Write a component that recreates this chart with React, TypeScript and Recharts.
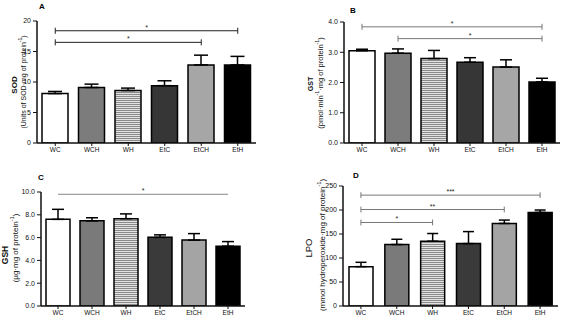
import { BarChart, Bar, XAxis, YAxis, Cell, ErrorBar, ReferenceLine } from "recharts";

const groups = ["WC", "WCH", "WH", "EtC", "EtCH", "EtH"];

// panel A - SOD
const sodMean = [8.1, 9.1, 8.6, 9.4, 12.8, 12.8];
const sodErr = [0.35, 0.55, 0.4, 0.8, 1.6, 1.4];
const sodTicks = [0, 5, 10, 15, 20];
const sodSig = [
  { from: "WC", to: "EtH", y: 18.4, mark: "*" },
  { from: "WC", to: "EtCH", y: 16.5, mark: "*" },
];

// panel B - GST
const gstMean = [3.05, 2.97, 2.79, 2.67, 2.51, 2.02];
const gstErr = [0.05, 0.14, 0.27, 0.15, 0.24, 0.12];
const gstTicks = [0, 1, 2, 3, 4];
const gstSig = [
  { from: "WC", to: "EtH", y: 3.84, mark: "*" },
  { from: "WCH", to: "EtH", y: 3.45, mark: "*" },
];

// panel C - GSH
const gshMean = [7.6, 7.47, 7.66, 6.02, 5.78, 5.25];
const gshErr = [0.88, 0.27, 0.42, 0.22, 0.57, 0.4];
const gshTicks = [0, 2, 4, 6, 8, 10];
const gshSig = [{ from: "WC", to: "EtH", y: 9.8, mark: "*" }];

// panel D - LPO
const lpoMean = [82, 128, 135, 130, 172, 195];
const lpoErr = [9, 11, 16, 25, 7, 5];
const lpoTicks = [0, 50, 100, 150, 200, 250];
const lpoSig = [
  { from: "WC", to: "EtH", y: 231, mark: "***" },
  { from: "WC", to: "EtCH", y: 201, mark: "**" },
  { from: "WC", to: "WH", y: 174, mark: "*" },
];

// axis titles, split so the "-1" parts can be raised
const sodUnits = ["(Units of SOD·mg of protein", "^-1", ")"];
const gstUnits = ["(pmol·min", "^-1", "·mg of protein", "^-1", ")"];
const gshUnits = ["(µg·mg of protein", "^-1", ")"];
const lpoUnits = ["(mmol hydroperoxide·mg of protein", "^-1", ")"];

const FONT = "'Liberation Sans', Arial, sans-serif";

type Sig = { from: string; to: string; y: number; mark: string };

interface PanelProps {
  id: string;
  left: number;
  top: number;
  w: number;
  h: number;
  plot: { x: number; y: number; w: number; h: number };
  means: number[];
  errs: number[];
  ticks: number[];
  decimals: number;
  sig: Sig[];
  sigColor: string;
  cap: number;
  barSize: number;
  whisker: number;
  fills: string[];
}

function Panel(p: PanelProps) {
  const rows = groups.map((g, i) => ({ g, v: p.means[i], e: [0, p.errs[i]] }));
  const yw = 24;
  const xh = 12;
  const margin = {
    left: p.plot.x - yw,
    top: p.plot.y,
    right: p.w - p.plot.x - p.plot.w,
    bottom: p.h - p.plot.y - p.plot.h - xh,
  };
  const max = p.ticks[p.ticks.length - 1];
  return (
    <div style={{ position: "absolute", left: p.left, top: p.top }}>
      <BarChart width={p.w} height={p.h} data={rows} margin={margin} barCategoryGap={0}>
        <defs>
          <pattern id={`stripe-${p.id}`} patternUnits="userSpaceOnUse" width={4} height={2}>
            <rect x={0} y={0} width={4} height={2} fill="#e2e2e2" />
            <rect x={0} y={0} width={4} height={1} fill="#8a8a8a" />
          </pattern>
        </defs>
        <XAxis
          dataKey="g"
          height={xh}
          tickSize={3}
          tickMargin={1}
          axisLine={{ stroke: "#111", strokeWidth: 1.5 }}
          tickLine={{ stroke: "#111" }}
          tick={{ fontSize: 6.5, fill: "#111", fontFamily: FONT }}
          interval={0}
        />
        <YAxis
          width={yw}
          domain={[0, max]}
          ticks={p.ticks}
          allowDataOverflow
          tickSize={4}
          tickMargin={2}
          axisLine={{ stroke: "#111", strokeWidth: 1.5 }}
          tickLine={{ stroke: "#111" }}
          tick={{ fontSize: 7, fill: "#111", fontFamily: FONT }}
          tickFormatter={(v: number) => v.toFixed(p.decimals)}
        />
        <Bar dataKey="v" barSize={p.barSize} stroke="#000" strokeWidth={1.5} isAnimationActive={false}>
          {rows.map((r, i) => (
            <Cell key={r.g} fill={p.fills[i] === "stripe" ? `url(#stripe-${p.id})` : p.fills[i]} />
          ))}
          <ErrorBar dataKey="e" width={p.whisker} stroke="#000" strokeWidth={1.5} direction="y" isAnimationActive={false} />
        </Bar>
        {p.sig.map((s) => (
          <ReferenceLine
            key={`h-${s.from}-${s.to}`}
            segment={[
              { x: s.from, y: s.y },
              { x: s.to, y: s.y },
            ]}
            stroke={p.sigColor}
            strokeWidth={1}
            label={{ value: s.mark, position: "top", offset: 1, fontSize: 7, fill: "#222", fontFamily: FONT }}
          />
        ))}
        {p.sig.flatMap((s) =>
          [s.from, s.to].map((c) => (
            <ReferenceLine
              key={`v-${s.from}-${s.to}-${c}`}
              segment={[
                { x: c, y: s.y - p.cap },
                { x: c, y: s.y + p.cap },
              ]}
              stroke={p.sigColor}
              strokeWidth={1}
            />
          ))
        )}
      </BarChart>
    </div>
  );
}

function VTitle({ x, y, size, bold, parts }: { x: number; y: number; size: number; bold?: boolean; parts: string[] }) {
  let raised = false;
  return (
    <text
      x={x}
      y={y}
      transform={`rotate(-90 ${x} ${y})`}
      textAnchor="middle"
      dominantBaseline="central"
      fontSize={size}
      fontWeight={bold ? "bold" : "normal"}
      fontFamily={FONT}
      fill="#111"
    >
      {parts.map((t, i) => {
        const sup = t.startsWith("^");
        let dy = 0;
        if (sup && !raised) dy = -size * 0.4;
        if (!sup && raised) dy = size * 0.4;
        raised = sup;
        return (
          <tspan key={i} dy={dy} fontSize={sup ? size * 0.7 : size}>
            {sup ? t.slice(1) : t}
          </tspan>
        );
      })}
    </text>
  );
}

const fillsAB = ["#ffffff", "#7c7c7c", "stripe", "#363636", "#a6a6a6", "#000000"];
const fillsCD = ["#ffffff", "#7a7a7a", "stripe", "#3a3a3a", "#a4a4a4", "#000000"];

export default function App() {
  return (
    <div style={{ position: "absolute", left: 0, top: 0, width: 561, height: 323, background: "#fff", overflow: "hidden" }}>
      <Panel
        id="a" left={0} top={0} w={280} h={160}
        plot={{ x: 37, y: 21, w: 219, h: 122 }}
        means={sodMean} errs={sodErr} ticks={sodTicks} decimals={0}
        sig={sodSig} sigColor="#222" cap={0.5} barSize={26} whisker={7} fills={fillsAB}
      />
      <Panel
        id="b" left={280} top={0} w={281} h={160}
        plot={{ x: 64, y: 22, w: 216, h: 121 }}
        means={gstMean} errs={gstErr} ticks={gstTicks} decimals={1}
        sig={gstSig} sigColor="#777" cap={0.1} barSize={26} whisker={6} fills={fillsAB}
      />
      <Panel
        id="c" left={0} top={160} w={280} h={163}
        plot={{ x: 41, y: 32, w: 204, h: 114 }}
        means={gshMean} errs={gshErr} ticks={gshTicks} decimals={1}
        sig={gshSig} sigColor="#888" cap={0.26} barSize={24} whisker={6} fills={fillsCD}
      />
      <Panel
        id="d" left={280} top={160} w={281} h={163}
        plot={{ x: 63, y: 26, w: 215, h: 120 }}
        means={lpoMean} errs={lpoErr} ticks={lpoTicks} decimals={0}
        sig={lpoSig} sigColor="#777" cap={6} barSize={24} whisker={5.5} fills={fillsCD}
      />
      <svg width={561} height={323} style={{ position: "absolute", left: 0, top: 0, pointerEvents: "none" }}>
        <text x={42} y={9} fontSize={8} fontWeight="bold" fontFamily={FONT} textAnchor="middle">A</text>
        <text x={353} y={13} fontSize={8} fontWeight="bold" fontFamily={FONT} textAnchor="middle">B</text>
        <text x={41} y={180} fontSize={8} fontWeight="bold" fontFamily={FONT} textAnchor="middle">C</text>
        <text x={356} y={178} fontSize={8} fontWeight="bold" fontFamily={FONT} textAnchor="middle">D</text>

        <VTitle x={14} y={85} size={8} bold parts={["SOD"]} />
        <VTitle x={23} y={82} size={7} parts={sodUnits} />

        <VTitle x={310} y={84} size={7} bold parts={["GST"]} />
        <VTitle x={320} y={83} size={7.5} parts={gstUnits} />

        <VTitle x={5} y={255} size={8.5} bold parts={["GSH"]} />
        <VTitle x={15} y={248} size={8} parts={gshUnits} />

        <VTitle x={308} y={248} size={9.5} parts={["LPO"]} />
        <VTitle x={322} y={245} size={8} parts={lpoUnits} />
      </svg>
    </div>
  );
}
